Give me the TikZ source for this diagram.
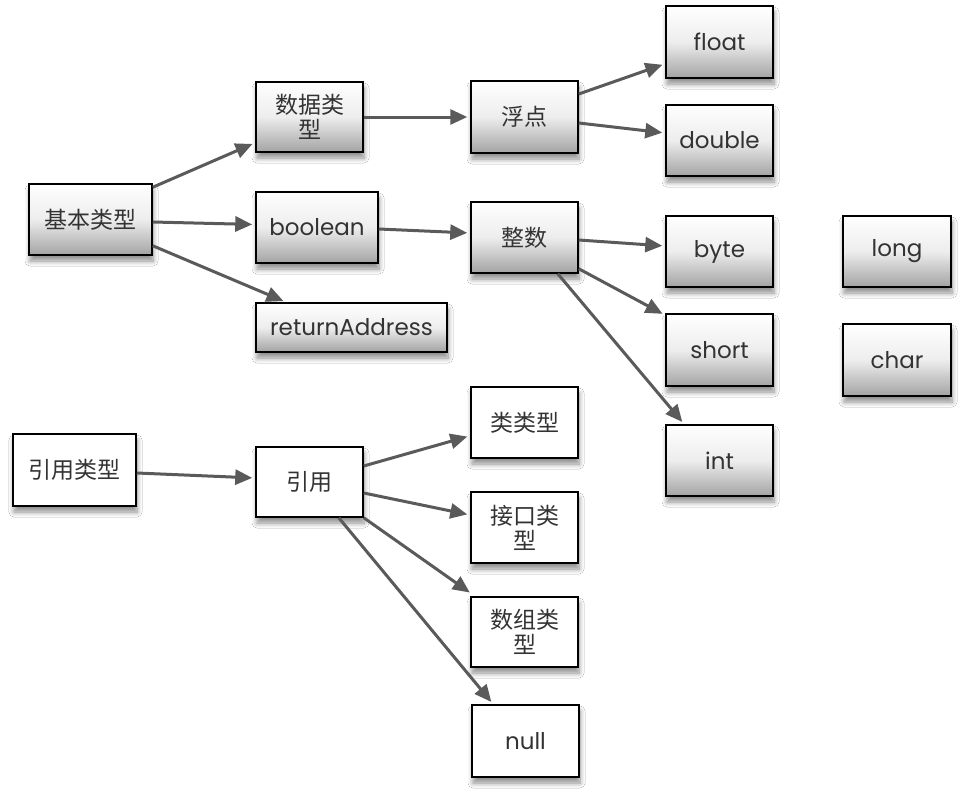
\documentclass[tikz,border=0pt]{standalone}
\usepackage{fontspec}
\setmainfont{Poppins}
\newfontfamily\cjk{Noto Sans CJK SC}
\usetikzlibrary{shadows,shadows.blur,arrows.meta,calc}
\definecolor{arrowgray}{HTML}{5A5A5A}
\definecolor{txtgray}{HTML}{333333}
\tikzset{
  box/.style={draw=black, line width=1.5pt, minimum width=107pt, minimum height=71pt,
    inner sep=2pt, align=center, text=txtgray, font=\fontsize{23}{26}\selectfont,
    blur shadow={shadow xshift=1pt, shadow yshift=-6pt, shadow blur steps=8,
      shadow blur radius=5pt, shadow opacity=45}},
  zh/.style={font=\fontsize{23}{25}\selectfont\cjk},
  gbox/.style={box, top color=white, bottom color=black!36, middle color=black!7},
  wbox/.style={box, fill=white},
  arr/.style={draw=arrowgray, line width=3pt, -{Triangle[length=17pt,width=15pt]}, shorten >=3pt}
}
\begin{document}
\begin{tikzpicture}[x=1pt,y=-1pt]
\useasboundingbox[fill=white] (0,0) rectangle (966,792);
% primitive types
\node[gbox, zh, minimum width=123pt] (jb) at (90.5,219.5) {基本类型};
\node[gbox, zh, minimum height=70pt] (sj) at (309.5,117) {数据类\\型};
\node[gbox, minimum width=122pt] (bo) at (317,227.5) {boolean};
\node[gbox, minimum width=191pt, minimum height=49pt] (ra) at (351.5,327.5) {returnAddress};
\node[gbox, zh, minimum height=72pt] (fd) at (524.5,117) {浮点};
\node[gbox, zh] (zs) at (524.5,237.5) {整数};
\node[gbox, minimum height=72pt] (fl) at (719.5,42) {float};
\node[gbox] (db) at (719.5,140.5) {double};
\node[gbox] (by) at (719.5,251.5) {byte};
\node[gbox, minimum width=108pt] (lo) at (897,251.5) {long};
\node[gbox, minimum height=72pt] (sh) at (719.5,350) {short};
\node[gbox, minimum width=108pt, minimum height=72pt] (ch) at (897,360) {char};
\node[gbox] (in) at (719.5,460.5) {int};
% reference types
\node[wbox, zh, minimum width=123pt, minimum height=72pt] (yl) at (74.5,470) {引用类型};
\node[wbox, zh, minimum height=70pt] (yy) at (309.5,482) {引用};
\node[wbox, zh] (lt) at (524.5,422.5) {类类型};
\node[wbox, zh] (jk) at (524.5,527.5) {接口类\\型};
\node[wbox, zh, minimum height=70pt] (sz) at (524.5,632) {数组类\\型};
\node[wbox, minimum height=72pt] (nu) at (525.5,741) {null};
% connectors
\draw[arr] ($(jb.north east)+(0,4)$) -- ($(sj.south west)+(0,-10)$);
\draw[arr] ($(jb.east)+(0,2.5)$) -- ($(bo.west)+(0,-3)$);
\draw[arr] ($(jb.south east)+(0,-10)$) -- ($(ra.north west)+(31,0)$);
\draw[arr] (sj.east) -- (fd.west);
\draw[arr] ($(bo.east)+(0,1.5)$) -- ($(zs.west)+(0,-4.5)$);
\draw[arr] ($(fd.east)+(0,-23)$) -- ($(fl.south west)+(0,-15)$);
\draw[arr] ($(fd.east)+(0,6)$) -- ($(db.west)+(0,-7.5)$);
\draw[arr] ($(zs.east)+(0,2.5)$) -- ($(by.west)+(0,-5.5)$);
\draw[arr] ($(zs.south east)+(0,-5)$) -- ($(sh.north west)+(0,2)$);
\draw[arr] ($(zs.south east)+(-21,0)$) -- ($(in.north west)+(19,0)$);
\draw[arr] ($(yl.east)+(0,3)$) -- ($(yy.west)+(0,-4)$);
\draw[arr] ($(yy.east)+(0,-16)$) -- ($(lt.south west)+(0,-23)$);
\draw[arr] ($(yy.east)+(0,11)$) -- ($(jk.west)+(0,-12.5)$);
\draw[arr] (yy.south east) -- ($(sz.north west)+(2,-2)$);
\draw[arr] ($(yy.south east)+(-25,0)$) -- ($(nu.north west)+(22,0)$);
\end{tikzpicture}
\end{document}
